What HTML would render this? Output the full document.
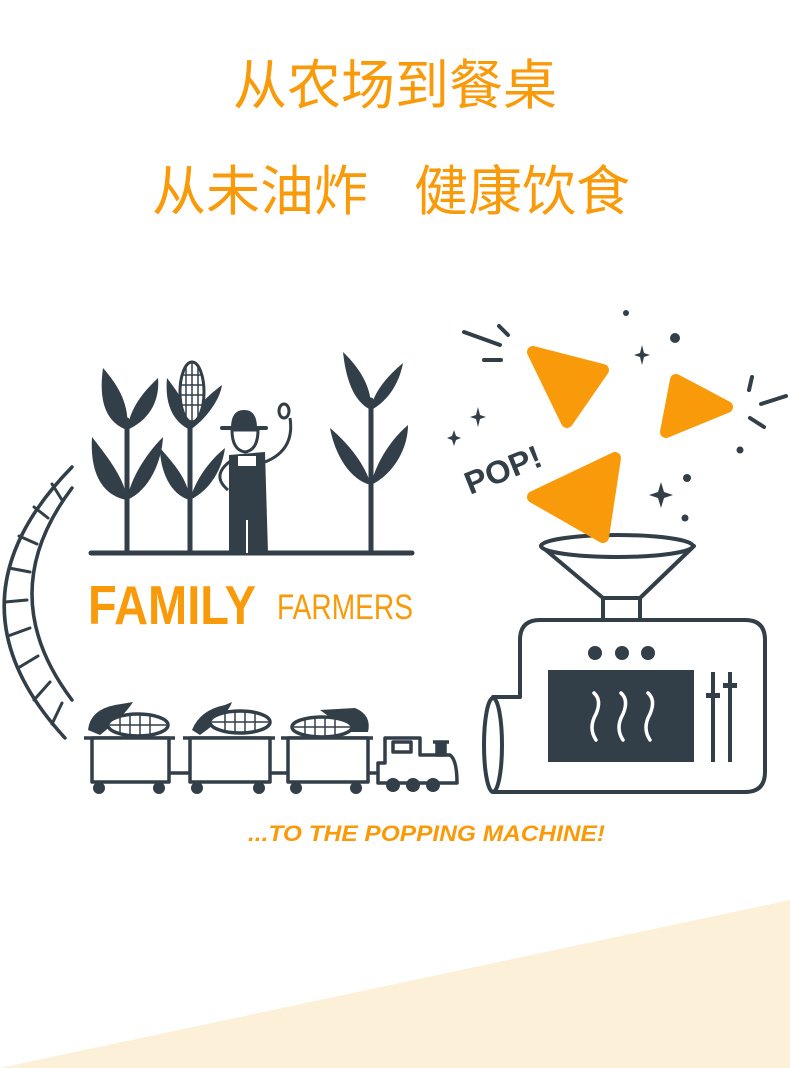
<!DOCTYPE html>
<html><head><meta charset="utf-8"><style>
html,body{margin:0;padding:0;background:#fff;}
body{width:790px;height:1068px;overflow:hidden;position:relative;}
</style></head><body>
<svg width="790" height="1068" viewBox="0 0 790 1068" xmlns="http://www.w3.org/2000/svg" style="position:absolute;left:0;top:0">
<polygon points="0,1068 790,900 790,1068" fill="#fdf0d9"/>
<g font-family="'Liberation Sans','Noto Sans CJK SC',sans-serif" fill="#f99a0a" text-anchor="middle">
<text x="395" y="104" font-size="54">从农场到餐桌</text>
<text x="260" y="210" font-size="54">从未油炸</text>
<text x="522" y="210" font-size="54">健康饮食</text>
</g>
<g stroke="#323e48" fill="none" stroke-linecap="round">
<!-- track -->
<path d="M72,467 Q-60,602 65,738" stroke-width="3.5"/>
<path d="M72,488 Q-8,594 72,700" stroke-width="3.5"/>
<g stroke-width="3">
<line x1="52" y1="484" x2="62" y2="500"/><line x1="34" y1="507" x2="48" y2="518"/>
<line x1="19" y1="536" x2="37" y2="544"/><line x1="9" y1="568" x2="30" y2="572"/>
<line x1="5" y1="602" x2="27" y2="600"/><line x1="8" y1="636" x2="30" y2="628"/>
<line x1="18" y1="668" x2="38" y2="656"/><line x1="34" y1="700" x2="50" y2="682"/>
<line x1="52" y1="724" x2="62" y2="703"/>
</g>
<!-- ground -->
<line x1="91" y1="553" x2="412" y2="553" stroke-width="5"/>
<!-- stems -->
<line x1="127" y1="420" x2="127" y2="553" stroke-width="5"/>
<line x1="190" y1="420" x2="190" y2="553" stroke-width="5"/>
<line x1="371" y1="400" x2="371" y2="553" stroke-width="5"/>
</g>
<g fill="#323e48">
<!-- leaves -->
<path d="M127,430 C100,420 100,390 103,368 C118,385 130,405 127,430Z"/>
<path d="M127,430 C150,420 160,400 158,378 C140,395 130,410 127,430Z"/>
<path d="M127,500 C100,495 90,470 92,437 C110,460 125,480 127,500Z"/>
<path d="M127,500 C150,490 162,460 163,437 C145,455 130,480 127,500Z"/>
<path d="M190,430 C170,420 165,400 167,378 C180,395 190,410 190,430Z"/>
<path d="M190,430 C205,420 220,400 222,385 C205,398 192,410 190,430Z"/>
<path d="M190,500 C170,495 160,470 160,448 C175,465 188,480 190,500Z"/>
<path d="M190,500 C210,490 222,470 225,448 C210,460 195,480 190,500Z"/>
<path d="M371,410 C350,400 345,370 343,352 C362,370 372,390 371,410Z"/>
<path d="M371,410 C390,400 400,380 403,363 C385,378 372,395 371,410Z"/>
<path d="M371,485 C350,480 335,455 330,428 C350,445 365,465 371,485Z"/>
<path d="M371,485 C392,475 408,450 408,425 C390,440 375,465 371,485Z"/>
<!-- corn on plant -->
<ellipse cx="192" cy="392" rx="12" ry="30" fill="#fff" stroke="#323e48" stroke-width="3"/>
<g stroke="#323e48" stroke-width="1.5">
<line x1="186" y1="365" x2="186" y2="418"/><line x1="192" y1="363" x2="192" y2="421"/><line x1="198" y1="365" x2="198" y2="418"/>
<line x1="181" y1="375" x2="203" y2="375"/><line x1="180" y1="385" x2="204" y2="385"/><line x1="180" y1="395" x2="204" y2="395"/><line x1="181" y1="405" x2="203" y2="405"/>
</g>
<!-- farmer -->
<path d="M231,428 Q231,410 244,410 Q257,410 257,428Z"/>
<rect x="220" y="426" width="48" height="4" rx="2"/>
<path d="M232,430 Q232,450 245,452 Q258,450 258,430Z" fill="#fff" stroke="#323e48" stroke-width="3"/>
<path d="M229,455 L265,452 L268,553 L229,553Z"/>
<rect x="238" y="456" width="18" height="10" fill="#fff"/>
<line x1="247" y1="520" x2="247" y2="553" stroke="#fff" stroke-width="2"/>
<path d="M232,460 Q210,475 228,490" fill="none" stroke="#323e48" stroke-width="3"/>
<path d="M265,462 Q295,450 290,418" fill="none" stroke="#323e48" stroke-width="3"/>
<ellipse cx="284" cy="411" rx="5" ry="7" fill="#fff" stroke="#323e48" stroke-width="3"/>
</g>
<g font-family="'Liberation Sans',sans-serif" fill="#f99a0a" font-weight="bold">
<text x="88" y="624" font-size="55" textLength="168" lengthAdjust="spacingAndGlyphs">FAMILY</text>
<text x="277" y="619" font-size="35" textLength="136" lengthAdjust="spacingAndGlyphs" font-weight="normal">FARMERS</text>
<text x="248" y="841" font-size="22" font-style="italic" textLength="357" lengthAdjust="spacingAndGlyphs">...TO THE POPPING MACHINE!</text>
</g>
<!-- train -->
<g stroke="#323e48" fill="none" stroke-width="3.5" stroke-linejoin="round">
<g fill="#323e48" stroke="none">
<path d="M88,730 Q90,710 115,705 L133,702 Q125,715 100,735Z"/>
<path d="M192,730 Q200,710 225,705 L232,702 Q228,715 200,735Z"/>
<path d="M320,710 L355,708 Q372,715 368,732 L350,732Z"/>
</g>
<ellipse cx="138" cy="725" rx="30" ry="11" fill="#fff"/>
<ellipse cx="240" cy="722" rx="30" ry="11" fill="#fff"/>
<ellipse cx="322" cy="727" rx="30" ry="10" fill="#fff"/>
<g stroke-width="1.5">
<line x1="120" y1="716" x2="120" y2="734"/><line x1="130" y1="714" x2="130" y2="736"/><line x1="140" y1="714" x2="140" y2="736"/><line x1="150" y1="715" x2="150" y2="735"/><line x1="110" y1="725" x2="166" y2="725"/>
<line x1="225" y1="713" x2="225" y2="731"/><line x1="235" y1="711" x2="235" y2="733"/><line x1="245" y1="711" x2="245" y2="733"/><line x1="255" y1="712" x2="255" y2="732"/><line x1="212" y1="722" x2="268" y2="722"/>
<line x1="305" y1="719" x2="305" y2="736"/><line x1="315" y1="717" x2="315" y2="737"/><line x1="325" y1="717" x2="325" y2="737"/><line x1="335" y1="718" x2="335" y2="736"/><line x1="294" y1="727" x2="350" y2="727"/>
</g>
<line x1="84" y1="738" x2="175" y2="738"/><line x1="183" y1="738" x2="275" y2="738"/><line x1="281" y1="738" x2="373" y2="738"/>
<rect x="92" y="738" width="77" height="44" fill="#fff"/>
<rect x="190" y="738" width="80" height="44" fill="#fff"/>
<rect x="288" y="738" width="80" height="44" fill="#fff"/>
<line x1="169" y1="773" x2="190" y2="773"/><line x1="270" y1="773" x2="288" y2="773"/><line x1="368" y1="773" x2="378" y2="773"/>
<path d="M378,783 L378,763 L385,763 L385,738 L420,738 L420,755 L450,755 Q457,760 457,783 Z" fill="#fff"/>
<rect x="393" y="742" width="18" height="10"/>
<rect x="437" y="743" width="8" height="12" fill="#323e48"/>
<line x1="433" y1="742" x2="449" y2="742"/>
</g>
<g fill="#323e48">
<circle cx="99" cy="788" r="6"/><circle cx="159" cy="788" r="6"/>
<circle cx="197" cy="788" r="6"/><circle cx="259" cy="788" r="6"/>
<circle cx="296" cy="788" r="6"/><circle cx="356" cy="788" r="6"/>
<circle cx="393" cy="785" r="7"/><circle cx="413" cy="785" r="7"/><circle cx="433" cy="785" r="7"/>
</g>
<!-- machine -->
<g stroke="#323e48" fill="none" stroke-width="4" stroke-linejoin="round">
<path d="M520,697 L520,640 Q520,620 540,620 L745,620 Q765,620 765,640 L765,772 Q765,792 745,792 L493,792 L493,697 Z" fill="#fff"/>
<ellipse cx="493" cy="745" rx="9" ry="47" fill="#fff"/>
<rect x="603" y="595" width="37" height="25" fill="#fff"/>
<path d="M541,546 L603,598 L640,598 L694,546 Z" fill="#fff"/>
</g>
<!-- chips -->
<g fill="#f99a0a" stroke="#f99a0a" stroke-width="12" stroke-linejoin="round">
<polygon points="533,352 603,370 567,422"/>
<polygon points="676,380 727,407 666,432"/>
</g>
<ellipse cx="617" cy="546" rx="76" ry="11" fill="#fff" stroke="#323e48" stroke-width="4"/>
<polygon points="615,458 533,497 603,537" fill="#f99a0a" stroke="#f99a0a" stroke-width="12" stroke-linejoin="round"/>
<g fill="#323e48">
<rect x="548" y="670" width="146" height="92"/>
<circle cx="595" cy="653" r="7"/><circle cx="622" cy="653" r="7"/><circle cx="648" cy="653" r="7"/>
<rect x="711" y="672" width="4" height="90"/><rect x="728" y="672" width="4" height="90"/>
<rect x="706" y="693" width="14" height="5"/><rect x="723" y="683" width="14" height="5"/>
</g>
<g stroke="#fff" stroke-width="3.5" fill="none" stroke-linecap="round">
<path d="M594,693 Q602,700 596,714 Q588,728 596,740"/>
<path d="M621,693 Q629,700 623,714 Q615,728 623,740"/>
<path d="M648,693 Q656,700 650,714 Q642,728 650,740"/>
</g>
<!-- sparks -->
<g stroke="#323e48" stroke-width="4" stroke-linecap="round">
<line x1="464" y1="332" x2="500" y2="345"/><line x1="499" y1="326" x2="508" y2="335"/>
<line x1="484" y1="360" x2="501" y2="360"/>
<line x1="752" y1="377" x2="749" y2="390"/><line x1="761" y1="404" x2="786" y2="396"/>
<line x1="750" y1="418" x2="764" y2="427"/>
</g>
<g fill="#323e48">
<circle cx="626" cy="313" r="3"/><circle cx="675" cy="338" r="5"/><circle cx="740" cy="450" r="3.5"/>
<circle cx="687" cy="478" r="4"/><circle cx="685" cy="518" r="3.5"/>
<path d="M642,345 l2,8 l6,2 l-6,2 l-2,8 l-2,-8 l-6,-2 l6,-2z"/>
<path d="M478,407 l2,8 l6,2 l-6,2 l-2,8 l-2,-8 l-6,-2 l6,-2z"/>
<path d="M454,430 l2,6 l5,2 l-5,2 l-2,6 l-2,-6 l-5,-2 l5,-2z"/>
<path d="M661,482 l3,10 l9,3 l-9,3 l-3,10 l-3,-10 l-9,-3 l9,-3z"/>
</g>
<text x="470" y="495" transform="rotate(-22 470 495)" font-family="'Liberation Sans',sans-serif" font-weight="bold" font-size="32" fill="#323e48" textLength="80" lengthAdjust="spacingAndGlyphs">POP!</text>
</svg>
</body></html>
